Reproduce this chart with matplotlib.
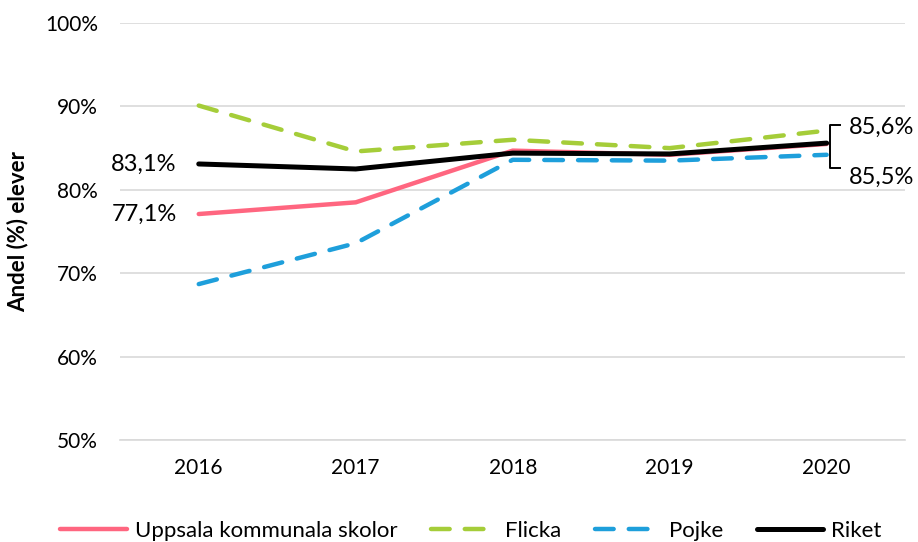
import matplotlib
matplotlib.use("Agg")
import matplotlib.pyplot as plt
from matplotlib.ticker import FuncFormatter

years = ["2016", "2017", "2018", "2019", "2020"]
uppsala = [77.1, 78.5, 84.7, 84.2, 85.5]
flicka = [90.1, 84.6, 86.0, 85.0, 87.1]
pojke = [68.7, 73.6, 83.6, 83.5, 84.2]
riket = [83.1, 82.5, 84.4, 84.3, 85.6]
yticks = [50, 60, 70, 80, 90, 100]

plt.rcParams['font.family'] = ['Lato', 'DejaVu Sans']

fig = plt.figure(figsize=(9.18, 5.42), dpi=100)
ax = fig.add_axes([0.131, 0.188, 0.855, 0.7696])
x = list(range(len(years)))

ax.plot(x, uppsala, color="#FF6680", lw=3.2, label="Uppsala kommunala skolor", solid_capstyle="round", zorder=3)
ax.plot(x, flicka, color="#A5CD39", lw=3.2, dashes=(4.2, 3.4), dash_capstyle="round", label="Flicka", zorder=3)
ax.plot(x, pojke, color="#1E9FDB", lw=3.2, dashes=(4.2, 3.4), dash_capstyle="round", label="Pojke", zorder=3)
ax.plot(x, riket, color="black", lw=3.6, label="Riket", solid_capstyle="round", zorder=4)

ax.set_xlim(-0.5, 4.5)
ax.set_ylim(50, 100)
ax.set_yticks(yticks)
ax.yaxis.set_major_formatter(FuncFormatter(lambda v, p: f"{int(v)}%"))
ax.set_xticks(x)
ax.set_xticklabels(years)
ax.grid(axis="y", color="#D9D9D9", lw=1.2)
ax.set_axisbelow(True)
for s in ["top", "right", "left"]:
    ax.spines[s].set_visible(False)
ax.spines["bottom"].set_color("#D9D9D9")
ax.spines["bottom"].set_linewidth(1.2)
ax.tick_params(axis="both", length=0, labelsize=15)
ax.tick_params(axis="y", pad=16)
ax.tick_params(axis="x", pad=13)
ax.set_ylabel("Andel (%) elever", fontsize=16, fontweight="bold", labelpad=12)

fs = 17
ax.annotate(f"{riket[0]:.1f}%".replace(".", ","), (0, riket[0]), xytext=(-16, 0), textcoords="offset points",
            ha="right", va="center", fontsize=fs)
ax.annotate(f"{uppsala[0]:.1f}%".replace(".", ","), (0, uppsala[0]), xytext=(-16, 0), textcoords="offset points",
            ha="right", va="center", fontsize=fs)

# bracket at 2020
xb = 4.02
ax.plot([xb + 0.065, xb, xb, xb + 0.065], [87.8, 87.8, 82.6, 82.6], color="black", lw=1.4,
        clip_on=False, zorder=2)
ax.text(xb + 0.12, 87.5, f"{riket[4]:.1f}%".replace(".", ","), ha="left", va="center", fontsize=fs)
ax.text(xb + 0.12, 81.5, f"{uppsala[4]:.1f}%".replace(".", ","), ha="left", va="center", fontsize=fs)

leg = fig.legend(loc="lower center", bbox_to_anchor=(0.513, -0.035), ncol=4, frameon=False, fontsize=16,
                 handlelength=3.0, columnspacing=1.5, handletextpad=0.35)
fig.savefig("out.png", dpi=100)
